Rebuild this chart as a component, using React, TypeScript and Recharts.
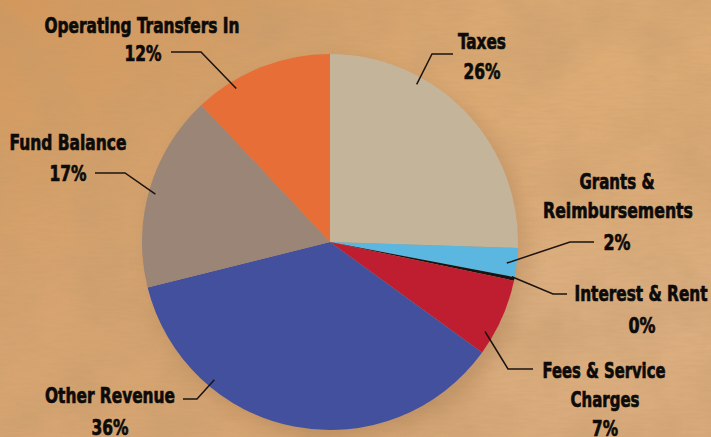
import React from 'react';
import { PieChart, Pie, Cell } from 'recharts';

const CATEGORIES = [
  'Taxes',
  'Grants & Reimbursements',
  'Interest & Rent',
  'Fees & Service Charges',
  'Other Revenue',
  'Fund Balance',
  'Operating Transfers In',
];
const VALUES = [25.5, 2.5, 0.3, 6.7, 36.1, 16.9, 12.0];
const PERCENT_LABELS = ['26%', '2%', '0%', '7%', '36%', '17%', '12%'];
const NAME_LINES = [
  ['Taxes'],
  ['Grants &', 'Reimbursements'],
  ['Interest & Rent'],
  ['Fees & Service', 'Charges'],
  ['Other Revenue'],
  ['Fund Balance'],
  ['Operating Transfers In'],
];
const COLORS = ['#C4B49A', '#5BB7DF', '#151515', '#BE1E30', '#42509D', '#9A8577', '#E76E37'];

const data = CATEGORIES.map((name, i) => ({ name, value: VALUES[i] }));

type TL = { dx: number; dy: number; w: number };
type LL = { a: number; rf: number; elbow: [number, number]; end: [number, number]; names: TL[]; pct: TL };
const LAYOUT: LL[] = [
  { a: 61.2, rf: 0.957, elbow: [102, -188], end: [123, -188], names: [{ dx: 152, dy: -201, w: 48 }], pct: { dx: 152, dy: -171, w: 37 } },
  { a: -6.8, rf: 0.947, elbow: [240, 0], end: [264, 0], names: [{ dx: 287, dy: -61, w: 75 }, { dx: 288, dy: -32, w: 150 }], pct: { dx: 287, dy: 0, w: 27 } },
  { a: -10.8, rf: 0.985, elbow: [223, 52], end: [237, 52], names: [{ dx: 311, dy: 51, w: 133 }], pct: { dx: 312, dy: 83, w: 27 } },
  { a: -30, rf: 0.952, elbow: [178, 127], end: [203, 127], names: [{ dx: 274, dy: 128, w: 123 }, { dx: 275, dy: 157, w: 69 }], pct: { dx: 275, dy: 186, w: 26 } },
  { a: 230, rf: 0.957, elbow: [-133, 157], end: [-147, 157], names: [{ dx: -220, dy: 153, w: 130 }], pct: { dx: -220, dy: 185, w: 37 } },
  { a: 164.7, rf: 0.963, elbow: [-205, -69], end: [-235, -69], names: [{ dx: -262, dy: -100, w: 117 }], pct: { dx: -262, dy: -69, w: 37 } },
  { a: 121.4, rf: 0.957, elbow: [-129, -190], end: [-159, -190], names: [{ dx: -188, dy: -217, w: 195 }], pct: { dx: -187, dy: -189, w: 37 } },
];

const FONT = "'Liberation Sans Narrow', 'DejaVu Sans Condensed', 'Open Sans', sans-serif";
const FONT_SIZE = 22;

let measureCtx: CanvasRenderingContext2D | null = null;
const measure = (t: string) => {
  if (typeof document === 'undefined') return 0;
  if (!measureCtx) measureCtx = document.createElement('canvas').getContext('2d');
  if (!measureCtx) return 0;
  measureCtx.font = `700 ${FONT_SIZE}px ${FONT}`;
  return measureCtx.measureText(t).width;
};

const renderLabel = (props: any) => {
  const { cx, cy, outerRadius, index } = props;
  const L = LAYOUT[index];
  if (!L) return null;
  const rad = (L.a * Math.PI) / 180;
  const sx = cx + outerRadius * L.rf * Math.cos(rad);
  const sy = cy - outerRadius * L.rf * Math.sin(rad);
  const texts: { t: string; p: TL }[] = [
    ...NAME_LINES[index].map((t, k) => ({ t, p: L.names[k] })),
    { t: PERCENT_LABELS[index], p: L.pct },
  ];
  return (
    <g key={`lbl-${index}`}>
      <polyline
        points={`${sx},${sy} ${cx + L.elbow[0]},${cy + L.elbow[1]} ${cx + L.end[0]},${cy + L.end[1]}`}
        fill="none"
        stroke="#1b1410"
        strokeWidth={1.5}
      />
      {texts.map(({ t, p }, k) => {
        const nat = measure(t);
        const s = nat > 0 ? p.w / nat : 1;
        return (
          <text
            key={k}
            x={0}
            y={0}
            transform={`translate(${cx + p.dx} ${cy + p.dy + 8.3}) scale(${s} 1)`}
            textAnchor="middle"
            fontFamily={FONT}
            fontWeight={700}
            fontSize={FONT_SIZE}
            fill="#0d0b09"
            stroke="#0d0b09"
            strokeWidth={0.7}
          >
            {t}
          </text>
        );
      })}
    </g>
  );
};

export default function App() {
  return (
    <div
      style={{
        position: 'absolute',
        left: 0,
        top: 0,
        width: 711,
        height: 437,
        overflow: 'hidden',
        background:
          'radial-gradient(ellipse at 90% 15%, #DEAD76 0%, rgba(222,173,118,0) 45%), radial-gradient(ellipse at 85% 70%, #DDB083 0%, rgba(221,176,131,0) 50%), linear-gradient(150deg, #D3985C 0%, #D7A470 40%, #D6A676 100%)',
      }}
    >
      <svg width={711} height={437} style={{ position: 'absolute', left: 0, top: 0 }}>
        <defs>
          <filter id="blotch" x="0" y="0" width="100%" height="100%">
            <feTurbulence type="fractalNoise" baseFrequency="0.014" numOctaves={4} seed={7} />
            <feColorMatrix
              type="matrix"
              values="0 0 0 0 0.55  0 0 0 0 0.33  0 0 0 0 0.15  0 0 0 -1.5 1.0"
            />
          </filter>
          <filter id="grain" x="0" y="0" width="100%" height="100%">
            <feTurbulence type="fractalNoise" baseFrequency="0.05 0.35" numOctaves={2} seed={3} />
            <feColorMatrix
              type="matrix"
              values="0 0 0 0 0.5  0 0 0 0 0.32  0 0 0 0 0.15  0 0 0 -1.2 0.75"
            />
          </filter>
        </defs>
        <rect x={0} y={0} width={711} height={437} filter="url(#blotch)" opacity={0.6} />
        <rect x={0} y={0} width={711} height={437} filter="url(#grain)" opacity={0.3} />
      </svg>
      <style>{`.shadow-pie { filter: blur(8px); opacity: 0.4; transform: translate(4px, 5px); }`}</style>
      <div style={{ position: 'absolute', left: 0, top: 0 }}>
        <PieChart width={711} height={437} margin={{ top: 0, right: 0, bottom: 0, left: 0 }}>
          <Pie
            className="shadow-pie"
            data={data}
            dataKey="value"
            nameKey="name"
            cx={330}
            cy={242}
            outerRadius={188}
            startAngle={90}
            endAngle={-270}
            stroke="none"
            isAnimationActive={false}
            labelLine={false}
            label={false}
          >
            {data.map((_, i) => (
              <Cell key={i} fill="#5a3214" />
            ))}
          </Pie>
          <Pie
            data={data}
            dataKey="value"
            nameKey="name"
            cx={330}
            cy={242}
            outerRadius={188}
            startAngle={90}
            endAngle={-270}
            stroke="none"
            isAnimationActive={false}
            labelLine={false}
            label={renderLabel}
          >
            {data.map((_, i) => (
              <Cell key={i} fill={COLORS[i]} />
            ))}
          </Pie>
        </PieChart>
      </div>
    </div>
  );
}
